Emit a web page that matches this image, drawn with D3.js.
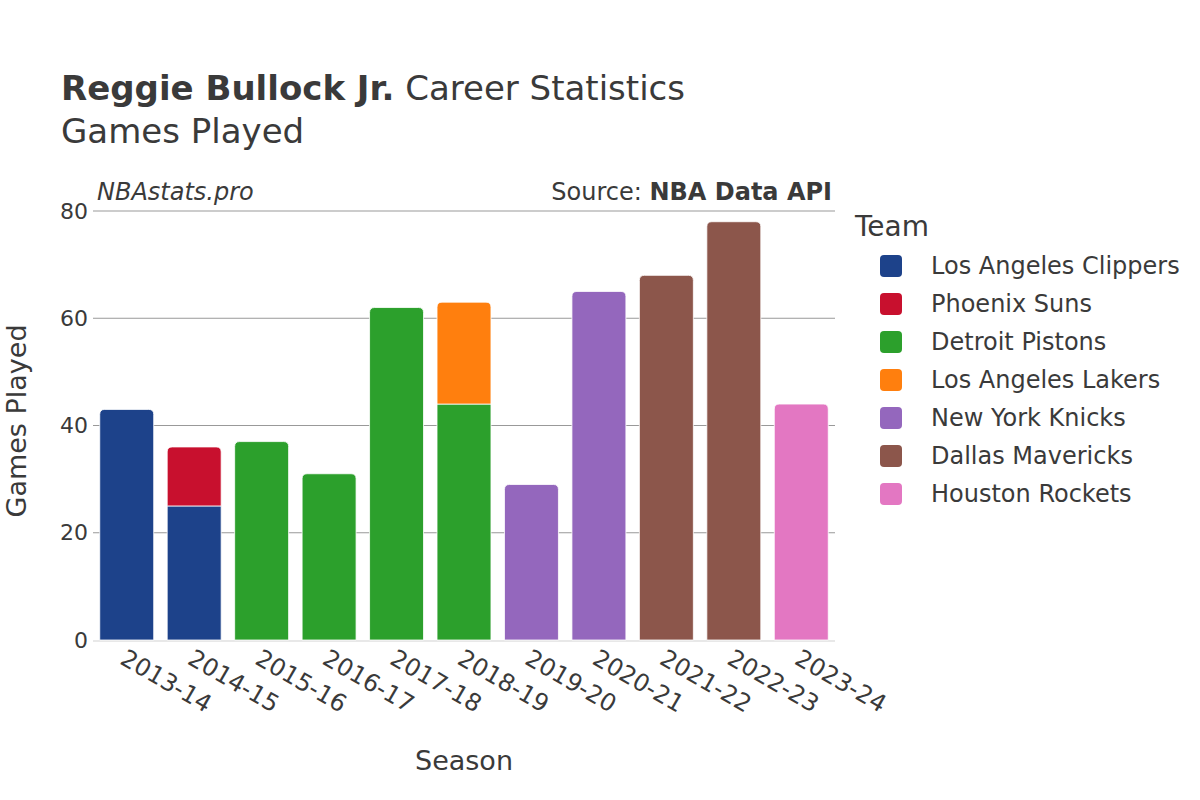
<!DOCTYPE html>
<html><head><meta charset="utf-8">
<script src="https://cdn.jsdelivr.net/npm/d3@7"></script>
<style>body{margin:0;background:#fff}svg{font-family:"DejaVu Sans",sans-serif}</style>
</head><body><svg id="c" width="1200" height="800"></svg>
<script>
const seasons = ["2013-14","2014-15","2015-16","2016-17","2017-18","2018-19","2019-20","2020-21","2021-22","2022-23","2023-24"];
const teams = ["Los Angeles Clippers","Phoenix Suns","Detroit Pistons","Los Angeles Lakers","New York Knicks","Dallas Mavericks","Houston Rockets"];
const teamColors = ["#1d428a","#c8102e","#2ca02c","#ff7f0e","#9467bd","#8c564b","#e377c2"];
// segments in stacking order
const segSeason = ["2013-14","2014-15","2014-15","2015-16","2016-17","2017-18","2018-19","2018-19","2019-20","2020-21","2021-22","2022-23","2023-24"];
const segTeam = ["Los Angeles Clippers","Los Angeles Clippers","Phoenix Suns","Detroit Pistons","Detroit Pistons","Detroit Pistons","Detroit Pistons","Los Angeles Lakers","New York Knicks","New York Knicks","Dallas Mavericks","Dallas Mavericks","Houston Rockets"];
const segGames = [43,25,11,37,31,62,44,19,29,65,68,78,44];
const yTicks = [0,20,40,60,80];

const svg = d3.select("#c");
const L=93, R=835, T=211, B=640;
const x = d3.scaleBand().domain(seasons).range([L,R]).paddingInner(0.2).paddingOuter(0.1);
const y = d3.scaleLinear().domain([0,80]).range([B,T]);
const color = d3.scaleOrdinal().domain(teams).range(teamColors);
const txt="#3a3a3a";

// grid
svg.append("g").selectAll("line").data(yTicks.filter(d=>d>0)).join("line")
  .attr("x1",L).attr("x2",R).attr("y1",d=>y(d)).attr("y2",d=>y(d))
  .attr("stroke","#999").attr("stroke-width",1);
svg.append("line").attr("x1",L).attr("x2",R).attr("y1",B+1).attr("y2",B+1).attr("stroke","#e8e8e8").attr("stroke-width",2);

// y tick labels
svg.append("g").selectAll("text").data(yTicks).join("text")
  .attr("x",L-5).attr("y",d=>y(d)).attr("dy","0.35em").attr("text-anchor","end")
  .attr("font-size",22).attr("fill",txt).text(d=>d);

// bars
const cum = {};
const segs = segGames.map((g,i)=>{
  const s=segSeason[i]; const b=cum[s]||0; cum[s]=b+g;
  return {s, t:segTeam[i], y0:b, y1:b+g};
});
segs.forEach(d=>{ d.top = d.y1===cum[d.s]; });
function barPath(d){
  const x0=x(d.s), w=x.bandwidth(), yt=y(d.y1), yb=y(d.y0), r=d.top?5:0;
  return `M${x0},${yb}V${yt+r}Q${x0},${yt} ${x0+r},${yt}H${x0+w-r}Q${x0+w},${yt} ${x0+w},${yt+r}V${yb}Z`;
}
svg.append("g").selectAll("path").data(segs).join("path")
  .attr("d",barPath).attr("fill",d=>color(d.t)).attr("stroke","#fff").attr("stroke-width",0.8);

// x tick labels
svg.append("g").selectAll("text").data(seasons).join("text")
  .attr("transform",d=>`translate(${x(d)+x.bandwidth()/2-8},${B+23}) rotate(30)`)
  .attr("font-size",24).attr("fill",txt).text(d=>d);

// axis titles
svg.append("text").attr("x",464).attr("y",770).attr("text-anchor","middle").attr("font-size",27).attr("fill",txt).text("Season");
svg.append("text").attr("transform","translate(26,421) rotate(-90)").attr("text-anchor","middle").attr("font-size",27).attr("fill",txt).text("Games Played");

// titles
const t1=svg.append("text").attr("x",61).attr("y",100).attr("font-size",34).attr("fill",txt);
t1.append("tspan").attr("font-weight","bold").text("Reggie Bullock Jr.");
t1.append("tspan").text(" Career Statistics");
svg.append("text").attr("x",61).attr("y",143).attr("font-size",34).attr("fill",txt).text("Games Played");
svg.append("text").attr("x",97).attr("y",200).attr("font-size",24).attr("font-style","italic").attr("fill",txt).text("NBAstats.pro");
const s1=svg.append("text").attr("x",832).attr("y",200).attr("text-anchor","end").attr("font-size",24).attr("fill",txt);
s1.append("tspan").text("Source: ");
s1.append("tspan").attr("font-weight","bold").text("NBA Data API");

// legend
svg.append("text").attr("x",855).attr("y",236).attr("font-size",28).attr("fill",txt).text("Team");
const lg=svg.append("g").selectAll("g").data(teams).join("g").attr("transform",(d,i)=>`translate(880,${266+i*38})`);
lg.append("rect").attr("x",0).attr("y",-11).attr("width",22).attr("height",22).attr("rx",4).attr("fill",d=>color(d));
lg.append("text").attr("x",51).attr("dy","0.35em").attr("font-size",24).attr("fill",txt).text(d=>d);
</script></body></html>
